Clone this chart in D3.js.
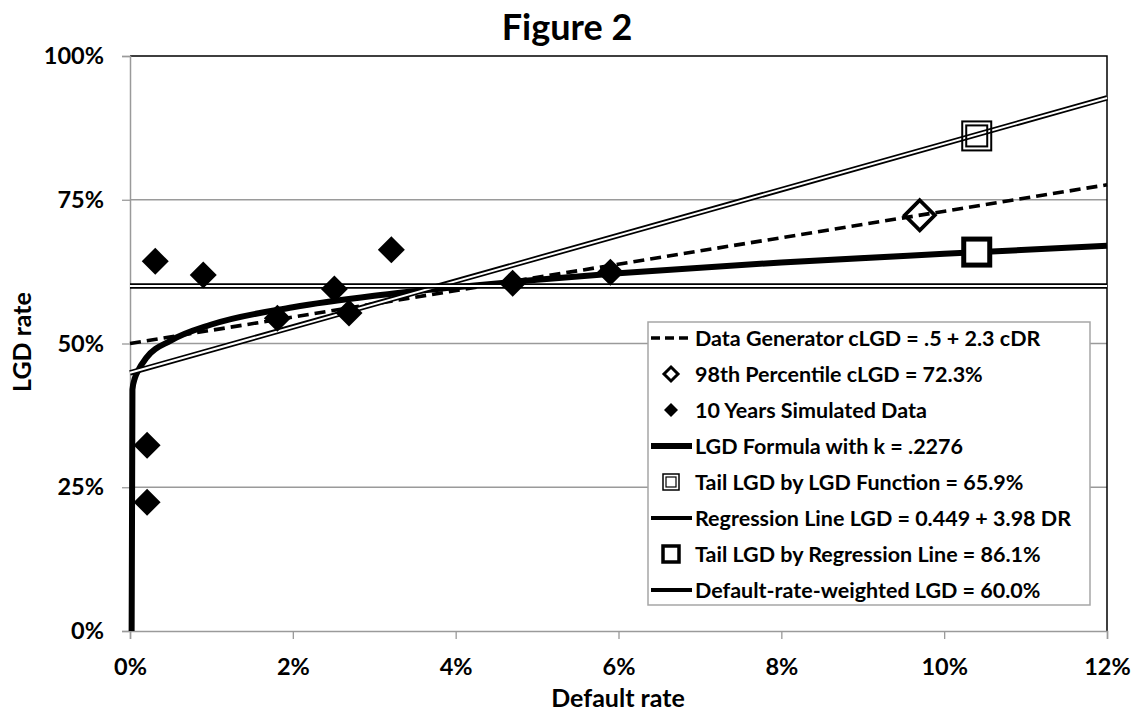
<!DOCTYPE html>
<html>
<head>
<meta charset="utf-8">
<script src="https://cdn.jsdelivr.net/npm/d3@7"></script>
<style>
body { margin: 0; background: #fff; }
text { font-family: Lato, "Open Sans", sans-serif; font-weight: bold; fill: #000; }
</style>
</head>
<body>
<svg id="chart" width="1134" height="713"></svg>
<script>
// 10 years of simulated data (default rate, LGD rate)
var simDR  = [0.0021, 0.0021, 0.0031, 0.0090, 0.0181, 0.0251, 0.0269, 0.0321, 0.0470, 0.0590];
var simLGD = [0.323, 0.224, 0.643, 0.619, 0.544, 0.595, 0.553, 0.663, 0.605, 0.624];

// straight lines, end points
var genDR = [0, 0.12],  genLGD = [0.50, 0.776];
var regDR = [0, 0.12],  regLGD = [0.449, 0.927];
var avgDR = [0, 0.12],  avgLGD = [0.60, 0.60];

// LGD formula curve
var curveDR  = [0.0002, 0.0003, 0.0006, 0.001, 0.002, 0.005, 0.01, 0.02, 0.03, 0.04, 0.05, 0.06, 0.08, 0.10, 0.12];
var curveLGD = [0, 0.42, 0.44, 0.453, 0.475, 0.505, 0.533, 0.563, 0.583, 0.598, 0.611, 0.622, 0.641, 0.656, 0.670];

// single points
var pctDR = [0.097],     pctLGD = [0.723];
var tailFnDR = [0.104],  tailFnLGD = [0.659];
var tailRegDR = [0.104], tailRegLGD = [0.861];

var xTicks = [0, 0.02, 0.04, 0.06, 0.08, 0.10, 0.12];
var yTicks = [0, 0.25, 0.50, 0.75, 1.00];

var legendLabels = [
  "Data Generator cLGD = .5 + 2.3 cDR",
  "98th Percentile cLGD = 72.3%",
  "10 Years Simulated Data",
  "LGD Formula with k = .2276",
  "Tail LGD by LGD Function = 65.9%",
  "Regression Line LGD = 0.449 + 3.98 DR",
  "Tail LGD by Regression Line = 86.1%",
  "Default-rate-weighted LGD = 60.0%"
];

var svg = d3.select("#chart");
var plotL = 130, plotR = 1107, plotT = 56, plotB = 631;
var x = d3.scaleLinear().domain([0, 0.12]).range([plotL, plotR]);
var y = d3.scaleLinear().domain([0, 1]).range([plotB, plotT]);
var grey = "#9a9a9a";

function pairs(xs, ys) { return xs.map(function(d, i) { return [d, ys[i]]; }); }
var line = d3.line().x(function(d) { return x(d[0]); }).y(function(d) { return y(d[1]); });

function diamond(r) { return "M0," + (-r) + "L" + r + ",0L0," + r + "L" + (-r) + ",0Z"; }

// grid
svg.append("g").selectAll("line").data(yTicks.slice(1, 4)).enter().append("line")
  .attr("x1", plotL).attr("x2", plotR)
  .attr("y1", function(d) { return y(d); }).attr("y2", function(d) { return y(d); })
  .attr("stroke", grey).attr("stroke-width", 1.3);

// plot border (top, right)
svg.append("path").attr("d", "M" + plotL + "," + plotT + "H" + plotR + "V" + plotB)
  .attr("fill", "none").attr("stroke", "#000").attr("stroke-width", 1.5);

// axes
var xAxis = d3.axisBottom(x).tickValues(xTicks).tickFormat(d3.format(".0%")).tickSize(8).tickPadding(19);
var yAxis = d3.axisLeft(y).tickValues(yTicks).tickFormat(d3.format(".0%")).tickSize(8).tickPadding(18);

var gx = svg.append("g").attr("transform", "translate(0," + plotB + ")").call(xAxis);
var gy = svg.append("g").attr("transform", "translate(" + plotL + ",0)").call(yAxis);
[gx, gy].forEach(function(g) {
  g.select(".domain").attr("stroke", grey).attr("stroke-width", 1.5);
  g.selectAll(".tick line").attr("stroke", grey).attr("stroke-width", 1.3);
  g.selectAll(".tick text").style("font-size", "23.5px").attr("fill", "#000")
    .style("font-family", "Lato, 'Open Sans', sans-serif").style("font-weight", "bold");
});

// lines
svg.append("path").datum(pairs(genDR, genLGD)).attr("d", line)
  .attr("fill", "none").attr("stroke", "#000").attr("stroke-width", 3.6).attr("stroke-dasharray", "11,6");

svg.append("path").datum(pairs(curveDR, curveLGD)).attr("d", line.curve(d3.curveMonotoneX))
  .attr("fill", "none").attr("stroke", "#000").attr("stroke-width", 6);
line.curve(d3.curveLinear);

function doubleLine(data) {
  svg.append("path").datum(data).attr("d", line)
    .attr("fill", "none").attr("stroke", "#000").attr("stroke-width", 5.5);
  svg.append("path").datum(data).attr("d", line)
    .attr("fill", "none").attr("stroke", "#fff").attr("stroke-width", 2);
}
doubleLine(pairs(regDR, regLGD));
doubleLine(pairs(avgDR, avgLGD));

// markers
svg.append("g").selectAll("path").data(pairs(simDR, simLGD)).enter().append("path")
  .attr("d", diamond(13.5))
  .attr("transform", function(d) { return "translate(" + x(d[0]) + "," + y(d[1]) + ")"; })
  .attr("fill", "#000");

svg.append("g").selectAll("path").data(pairs(pctDR, pctLGD)).enter().append("path")
  .attr("d", diamond(15))
  .attr("transform", function(d) { return "translate(" + x(d[0]) + "," + y(d[1]) + ")"; })
  .attr("fill", "none").attr("stroke", "#000").attr("stroke-width", 3.8);

svg.append("g").selectAll("rect").data(pairs(tailFnDR, tailFnLGD)).enter().append("rect")
  .attr("x", function(d) { return x(d[0]) - 13; }).attr("y", function(d) { return y(d[1]) - 13; })
  .attr("width", 26).attr("height", 26)
  .attr("fill", "#fff").attr("stroke", "#000").attr("stroke-width", 5);

var tr = svg.append("g").selectAll("g").data(pairs(tailRegDR, tailRegLGD)).enter().append("g")
  .attr("transform", function(d) { return "translate(" + x(d[0]) + "," + y(d[1]) + ")"; });
tr.append("rect").attr("x", -14.5).attr("y", -14.5).attr("width", 29).attr("height", 29)
  .attr("fill", "none").attr("stroke", "#000").attr("stroke-width", 2);
tr.append("rect").attr("x", -10.5).attr("y", -10.5).attr("width", 21).attr("height", 21)
  .attr("fill", "none").attr("stroke", "#000").attr("stroke-width", 2);

// titles
svg.append("text").attr("x", 567).attr("y", 40).attr("text-anchor", "middle")
  .style("font-size", "36px").text("Figure 2");
svg.append("text").attr("x", 618).attr("y", 707).attr("text-anchor", "middle")
  .style("font-size", "25px").text("Default rate");
svg.append("text").attr("transform", "translate(31,342) rotate(-90)").attr("text-anchor", "middle")
  .style("font-size", "25px").text("LGD rate");

// legend
var lg = svg.append("g");
lg.append("rect").attr("x", 648).attr("y", 322).attr("width", 442).attr("height", 283)
  .attr("fill", "#fff").attr("stroke", "#a6a6a6").attr("stroke-width", 1.5);

var rows = lg.selectAll("g.row").data(legendLabels).enter().append("g")
  .attr("class", "row")
  .attr("transform", function(d, i) { return "translate(0," + (338 + 36 * i) + ")"; });

rows.append("text").attr("x", 695).attr("dy", "0.36em").style("font-size", "21.5px")
  .text(function(d) { return d; });

rows.each(function(d, i) {
  var r = d3.select(this);
  if (i === 0) {
    r.append("line").attr("x1", 651).attr("x2", 690).attr("stroke", "#000")
      .attr("stroke-width", 3.6).attr("stroke-dasharray", "9,5");
  } else if (i === 1) {
    r.append("path").attr("d", diamond(7)).attr("transform", "translate(671,0)")
      .attr("fill", "none").attr("stroke", "#000").attr("stroke-width", 3);
  } else if (i === 2) {
    r.append("path").attr("d", diamond(7)).attr("transform", "translate(671,0)").attr("fill", "#000");
  } else if (i === 3) {
    r.append("line").attr("x1", 651).attr("x2", 692).attr("stroke", "#000").attr("stroke-width", 6);
  } else if (i === 4) {
    r.append("rect").attr("x", 663).attr("y", -8).attr("width", 16).attr("height", 16)
      .attr("fill", "none").attr("stroke", "#000").attr("stroke-width", 1.5);
    r.append("rect").attr("x", 666).attr("y", -5).attr("width", 10).attr("height", 10)
      .attr("fill", "none").attr("stroke", "#000").attr("stroke-width", 1.2);
  } else if (i === 6) {
    r.append("rect").attr("x", 663).attr("y", -8).attr("width", 16).attr("height", 16)
      .attr("fill", "#fff").attr("stroke", "#000").attr("stroke-width", 3.5);
  } else {
    r.append("line").attr("x1", 651).attr("x2", 692).attr("stroke", "#000").attr("stroke-width", 3.8);
  }
});
</script>
</body>
</html>
